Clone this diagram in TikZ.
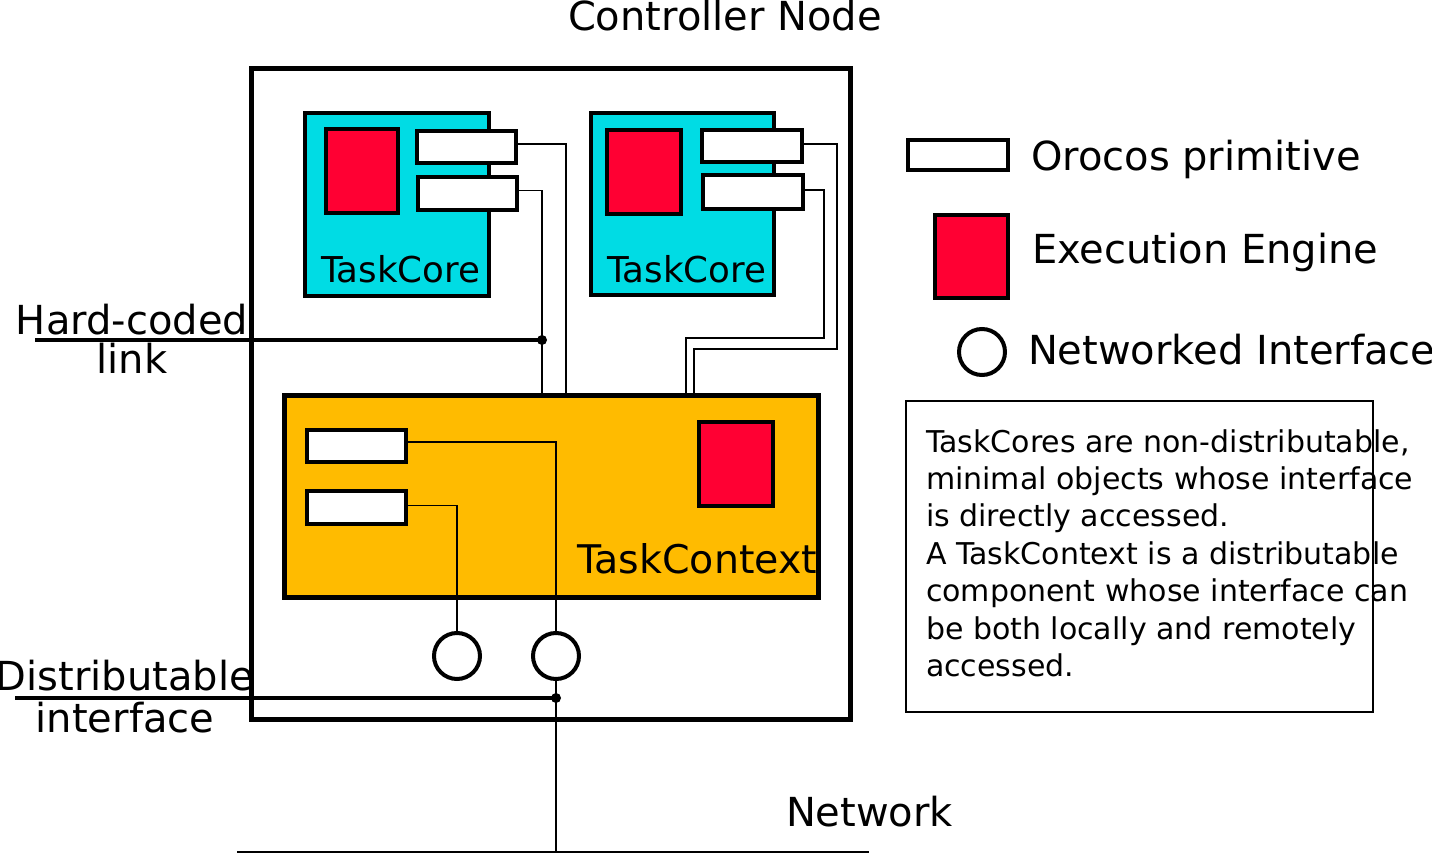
\documentclass[tikz,border=0pt]{standalone}
\usepackage{fontspec}
\setmainfont{DejaVu Sans}
\definecolor{tcyan}{RGB}{0,220,228}
\definecolor{tred}{RGB}{255,0,51}
\definecolor{torange}{RGB}{255,187,0}
\tikzset{
  box/.style={draw=black, rectangle, inner sep=0pt, outer sep=0pt, line width=4pt},
  corebox/.style={box, fill=tcyan},
  engbox/.style={box, fill=tred},
  primbox/.style={box, fill=white},
  ctxbox/.style={box, fill=torange, line width=5pt},
  ifcirc/.style={draw=black, circle, fill=white, inner sep=0pt, outer sep=0pt, line width=4pt, minimum size=46pt},
  wire/.style={draw=black, line width=1.3pt},
  thick link/.style={draw=black, line width=3.5pt},
  lbl/.style={inner sep=0pt, outer sep=0pt, font=\fontsize{40}{48}\selectfont},
  dotnode/.style={circle, fill=black, inner sep=0pt, minimum size=10pt},
}
\begin{document}
\begin{tikzpicture}[x=1pt,y=-1pt]
\useasboundingbox (0,0) rectangle (1432,853);
\fill[white] (0,0) rectangle (1432,853);

% controller node
\node[box, line width=5pt, minimum width=599pt, minimum height=650pt] (ctrl) at (550.5,394) {};
\node[lbl, anchor=base] (ctrltxt) at (725,31) {Controller Node};

% TaskCore 1
\node[corebox, minimum width=184pt, minimum height=183pt] (tc1) at (397,204.5) {};
\node[engbox, minimum width=72.5pt, minimum height=84pt] (e1) at (361.75,171) {};
\node[primbox, minimum width=99pt, minimum height=32pt] (p1a) at (466.5,147) {};
\node[primbox, minimum width=99pt, minimum height=33pt] (p1b) at (467.5,193.5) {};
\node[lbl, anchor=base west, font=\fontsize{35.6}{42}\selectfont] (tc1txt) at (321,282) {TaskCore};

% TaskCore 2
\node[corebox, minimum width=183pt, minimum height=182pt] (tc2) at (682.5,204) {};
\node[engbox, minimum width=74pt, minimum height=84pt] (e2) at (644,172) {};
\node[primbox, minimum width=100pt, minimum height=32pt] (p2a) at (752,146) {};
\node[primbox, minimum width=100pt, minimum height=34pt] (p2b) at (753,192) {};
\node[lbl, anchor=base west, font=\fontsize{35.6}{42}\selectfont] (tc2txt) at (607,282) {TaskCore};

% TaskContext
\node[ctxbox, minimum width=534pt, minimum height=202pt] (ctx) at (551,496) {};
\node[primbox, minimum width=99pt, minimum height=32pt] (p3a) at (356.5,446) {};
\node[primbox, minimum width=99pt, minimum height=33pt] (p3b) at (356.5,507.5) {};
\node[engbox, minimum width=74pt, minimum height=84pt] (e3) at (736,464) {};
\node[lbl, anchor=base west, font=\fontsize{39.5}{46}\selectfont] (ctxtxt) at (577,573) {TaskContext};
\draw[line width=5pt] (ctx.north east) -- (ctx.south east);

% interfaces
\node[ifcirc] (c1) at (457,656) {};
\node[ifcirc] (c2) at (556,656) {};

% wires TaskCore 1
\coordinate (j1a) at (566,395);
\coordinate (j1b) at (542,395);
\draw[wire] ([yshift=3pt]p1a.east) -| (j1a);
\draw[wire] ([yshift=3pt]p1b.east) -| (j1b);
% wires TaskCore 2
\coordinate (k2a1) at (837,349);
\coordinate (k2a2) at (694,395);
\coordinate (k2b1) at (824,338);
\coordinate (k2b2) at (686,395);
\draw[wire] ([yshift=2pt]p2a.east) -| (k2a1) -| (k2a2);
\draw[wire] ([yshift=2pt]p2b.east) -| (k2b1) -| (k2b2);
% wires TaskContext
\draw[wire] ([yshift=4pt]p3a.east) -| (c2.north);
\draw[wire] ([yshift=2pt]p3b.east) -| (c1.north);

% hard-coded link
\coordinate (hcstart) at (35,340);
\node[dotnode] (hcdot) at (542,340) {};
\draw[thick link] (hcstart) -- (hcdot.center);
\node[lbl, anchor=base] (hctxt1) at (132,334) {Hard-coded};
\node[lbl, anchor=base] (hctxt2) at (132,373) {link};

% distributable interface
\coordinate (distart) at (15,698);
\node[dotnode] (didot) at (556,698) {};
\draw[thick link] (distart) -- (didot.center);
\node[lbl, anchor=base] (ditxt1) at (125,690) {Distributable};
\node[lbl, anchor=base] (ditxt2) at (125,732) {interface};

% network
\coordinate (netl) at (237,852);
\coordinate (netr) at (869,852);
\coordinate (netj) at (556,853);
\draw[draw=black, line width=2pt] (netl) -- (netr);
\draw[wire] (c2.south) -- (netj);
\node[lbl, anchor=base west] (nettxt) at (786,826) {Network};

% legend
\node[primbox, minimum width=100pt, minimum height=30pt] (lgp) at (958,155) {};
\node[lbl, anchor=base west] (lgptxt) at (1031,171) {Orocos primitive};
\node[engbox, minimum width=73pt, minimum height=83pt] (lge) at (971.5,256.5) {};
\node[lbl, anchor=base west] (lgetxt) at (1032,263) {Execution Engine};
\node[ifcirc] (lgc) at (982,352) {};
\node[lbl, anchor=base west] (lgctxt) at (1028,364) {Networked Interface};

% description
\node[draw=black, line width=1.5pt, rectangle, inner sep=0pt, minimum width=467pt, minimum height=311pt] (desc) at (1139.5,556.5) {};
\node[inner sep=0pt, outer sep=0pt, anchor=base west, align=left, font=\fontsize{30}{37.4}\selectfont] (desctxt) at (926,676.4)
  {TaskCores are non-distributable,\\minimal objects whose interface\\is directly accessed.\\A TaskContext is a distributable\\component whose interface can\\be both locally and remotely\\accessed.};
\end{tikzpicture}
\end{document}
